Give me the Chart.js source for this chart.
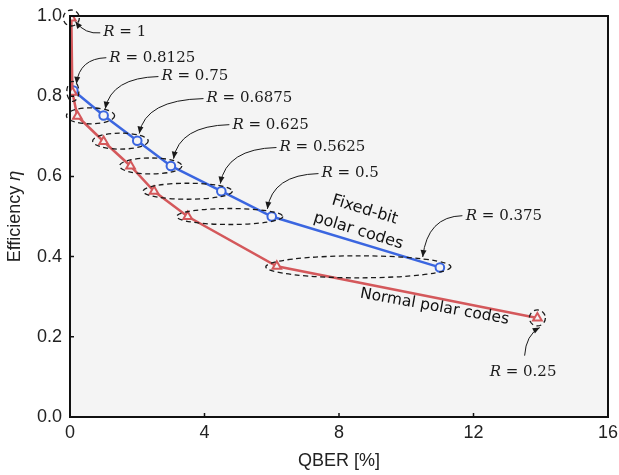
<!DOCTYPE html>
<html>
<head>
<meta charset="utf-8">
<script src="https://cdn.jsdelivr.net/npm/chart.js@4"></script>
<style>
  html, body { margin: 0; padding: 0; background: #ffffff; }
  #wrap { width: 619px; height: 475px; }
</style>
</head>
<body>
<div id="wrap"><canvas id="c" width="619" height="475"></canvas></div>
<script>
// ---------- data ----------
const fixedRates  = ['0.8125', '0.75', '0.6875', '0.625', '0.5625', '0.5', '0.375'];
const fixedQBER   = [0.10, 1.0, 2.0, 3.0, 4.5, 6.0, 11.0];
const fixedEff    = [0.814, 0.752, 0.689, 0.626, 0.563, 0.50, 0.373];

const normalRates = ['1', '0.8125', '0.75', '0.6875', '0.625', '0.5625', '0.5', '0.375', '0.25'];
const normalQBER  = [0.04, 0.07, 0.22, 1.0, 1.8, 2.5, 3.5, 6.15, 13.9];
const normalEff   = [0.995, 0.81, 0.75, 0.687, 0.626, 0.563, 0.50, 0.376, 0.247];

const xTicks = [0, 4, 8, 12, 16];
const yTicks = [0.0, 0.2, 0.4, 0.6, 0.8, 1.0];

// annotation texts: label left-centre, arrow start, control, end (data coords)
const annoRate  = ['1', '0.8125', '0.75', '0.6875', '0.625', '0.5625', '0.5', '0.375', '0.25'];
const annoText  = [[0.99,0.961],[1.17,0.896],[2.72,0.849],[4.06,0.794],[4.83,0.729],[6.23,0.672],[7.48,0.607],[11.77,0.502],[12.48,0.113]];
const annoFrom  = [[0.90,0.958],[1.08,0.896],[2.63,0.849],[3.97,0.794],[4.74,0.729],[6.14,0.672],[7.39,0.607],[11.67,0.502],[13.52,0.153]];
const annoCtrl  = [[0.45,0.954],[0.28,0.894],[1.23,0.846],[2.24,0.791],[3.25,0.726],[4.65,0.669],[6.02,0.604],[10.63,0.500],[13.56,0.205]];
const annoTo    = [[0.16,0.986],[0.19,0.831],[1.05,0.769],[2.06,0.707],[3.08,0.644],[4.47,0.582],[5.87,0.519],[10.49,0.399],[13.97,0.223]];

const blue = '#3b66e0';
const red  = '#d4585b';

function pts(xs, ys) { return xs.map((x, i) => ({ x: x, y: ys[i] })); }

const decor = {
  id: 'decor',
  beforeDraw(chart) {
    const { ctx, chartArea: a } = chart;
    ctx.save();
    ctx.fillStyle = '#f4f4f4';
    ctx.fillRect(a.left, a.top, a.right - a.left, a.bottom - a.top);
    ctx.restore();
  },
  afterDraw(chart) {
    const { ctx, chartArea: a, scales } = chart;
    const X = v => scales.x.getPixelForValue(v);
    const Y = v => scales.y.getPixelForValue(v);
    ctx.save();

    // ----- dashed ellipses grouping equal code rates -----
    ctx.strokeStyle = '#1a1a1a';
    ctx.lineWidth = 1.3;
    ctx.setLineDash([5, 3.5]);
    normalRates.forEach((r, i) => {
      const xs = [X(normalQBER[i])], ys = [Y(normalEff[i])];
      const j = fixedRates.indexOf(r);
      if (j >= 0) { xs.push(X(fixedQBER[j])); ys.push(Y(fixedEff[j])); }
      const x0 = Math.min(...xs), x1 = Math.max(...xs);
      const cy = ys.reduce((s, v) => s + v, 0) / ys.length;
      const dx = x1 - x0;
      let rx, ry;
      if (dx > 10) { rx = dx / 2 + 11; ry = dx > 120 ? 11 : 8; }
      else if (j >= 0) { rx = 6; ry = 10; }
      else { rx = 8; ry = 8; }
      ctx.beginPath();
      ctx.ellipse((x0 + x1) / 2, cy, rx, ry, 0, 0, Math.PI * 2);
      ctx.stroke();
    });
    ctx.setLineDash([]);

    // ----- curved arrows and R labels -----
    ctx.strokeStyle = '#1a1a1a';
    ctx.fillStyle = '#1a1a1a';
    ctx.lineWidth = 1;
    annoRate.forEach((r, i) => {
      const sx = X(annoFrom[i][0]), sy = Y(annoFrom[i][1]);
      const cx = X(annoCtrl[i][0]), cy = Y(annoCtrl[i][1]);
      const ex = X(annoTo[i][0]), ey = Y(annoTo[i][1]);
      ctx.beginPath();
      ctx.moveTo(sx, sy);
      ctx.quadraticCurveTo(cx, cy, ex, ey);
      ctx.stroke();
      const ang = Math.atan2(ey - cy, ex - cx);
      const L = 7, W = 3;
      ctx.beginPath();
      ctx.moveTo(ex, ey);
      ctx.lineTo(ex - L * Math.cos(ang) + W * Math.sin(ang), ey - L * Math.sin(ang) - W * Math.cos(ang));
      ctx.lineTo(ex - L * Math.cos(ang) - W * Math.sin(ang), ey - L * Math.sin(ang) + W * Math.cos(ang));
      ctx.closePath();
      ctx.fill();

      const tx = X(annoText[i][0]), ty = Y(annoText[i][1]);
      ctx.textBaseline = 'middle';
      ctx.textAlign = 'left';
      ctx.font = 'italic 15px "DejaVu Serif"';
      ctx.fillText('R', tx, ty);
      const w = ctx.measureText('R').width;
      ctx.font = '15px "DejaVu Serif"';
      ctx.fillText(' = ' + r, tx + w, ty);
    });

    // ----- series labels -----
    ctx.fillStyle = '#111';
    ctx.font = '16px "DejaVu Sans"';
    ctx.textAlign = 'center';
    ctx.textBaseline = 'middle';
    ctx.save();
    ctx.translate(X(8.67), Y(0.49));
    ctx.rotate(17 * Math.PI / 180);
    ctx.fillText('Fixed-bit', 0, -11);
    ctx.fillText('polar codes', 0, 11);
    ctx.restore();
    ctx.save();
    ctx.translate(X(10.84), Y(0.275));
    ctx.rotate(10 * Math.PI / 180);
    ctx.font = '15.5px "DejaVu Sans"';
    ctx.fillText('Normal polar codes', 0, 0);
    ctx.restore();

    // ----- frame and inward ticks -----
    ctx.strokeStyle = '#111';
    ctx.lineWidth = 2;
    ctx.strokeRect(a.left, a.top, a.right - a.left, a.bottom - a.top);
    ctx.lineWidth = 1.5;
    ctx.beginPath();
    xTicks.forEach(v => {
      const p = X(v);
      ctx.moveTo(p, a.bottom); ctx.lineTo(p, a.bottom - 4);
    });
    yTicks.forEach(v => {
      const p = Y(v);
      ctx.moveTo(a.left, p); ctx.lineTo(a.left + 4, p);
    });
    ctx.stroke();

    // ----- axis titles -----
    ctx.fillStyle = '#222';
    ctx.textBaseline = 'middle';
    ctx.textAlign = 'center';
    ctx.font = '18px "Liberation Sans"';
    ctx.fillText('QBER [%]', (a.left + a.right) / 2, 461);

    ctx.save();
    ctx.translate(15, (a.top + a.bottom) / 2);
    ctx.rotate(-Math.PI / 2);
    const t1 = 'Efficiency ';
    ctx.font = '18px "Liberation Sans"';
    const w1 = ctx.measureText(t1).width;
    ctx.font = 'italic 18px "Liberation Sans"';
    const w2 = ctx.measureText('η').width;
    const start = -(w1 + w2) / 2;
    ctx.textAlign = 'left';
    ctx.font = '18px "Liberation Sans"';
    ctx.fillText(t1, start, 0);
    ctx.font = 'italic 18px "Liberation Sans"';
    ctx.fillText('η', start + w1, 0);
    ctx.restore();

    ctx.restore();
  }
};

new Chart(document.getElementById('c'), {
  type: 'scatter',
  data: {
    datasets: [
      {
        label: 'Normal polar codes',
        data: pts(normalQBER, normalEff),
        showLine: true,
        borderColor: red,
        backgroundColor: '#f4f4f4',
        borderWidth: 2.5,
        pointStyle: 'triangle',
        pointRadius: 5,
        pointBorderWidth: 2,
        pointBorderColor: red,
        pointBackgroundColor: '#f4f4f4',
        tension: 0
      },
      {
        label: 'Fixed-bit polar codes',
        data: pts(fixedQBER, fixedEff),
        showLine: true,
        borderColor: blue,
        backgroundColor: '#f4f4f4',
        borderWidth: 2.5,
        pointStyle: 'circle',
        pointRadius: 4.3,
        pointBorderWidth: 2,
        pointBorderColor: blue,
        pointBackgroundColor: '#f4f4f4',
        tension: 0
      }
    ]
  },
  options: {
    responsive: false,
    animation: false,
    devicePixelRatio: 1,
    layout: { padding: { top: 16, right: 11, left: 0, bottom: 0 } },
    plugins: { legend: { display: false }, tooltip: { enabled: false } },
    scales: {
      x: {
        type: 'linear',
        min: 0, max: 16,
        afterBuildTicks: s => { s.ticks = xTicks.map(v => ({ value: v })); },
        afterFit: s => { s.height = 58; s.paddingLeft = 0; s.paddingRight = 0; },
        grid: { display: false, drawTicks: false },
        border: { display: false },
        ticks: {
          padding: 5,
          color: '#222',
          font: { family: 'Liberation Sans', size: 18 },
          maxRotation: 0,
          callback: v => String(v)
        }
      },
      y: {
        type: 'linear',
        min: 0, max: 1,
        afterBuildTicks: s => { s.ticks = yTicks.map(v => ({ value: v })); },
        afterFit: s => { s.width = 70; s.paddingTop = 0; s.paddingBottom = 0; },
        grid: { display: false, drawTicks: false },
        border: { display: false },
        ticks: {
          padding: 8,
          color: '#222',
          font: { family: 'Liberation Sans', size: 18 },
          callback: v => Number(v).toFixed(1)
        }
      }
    }
  },
  plugins: [decor]
});
</script>
</body>
</html>
